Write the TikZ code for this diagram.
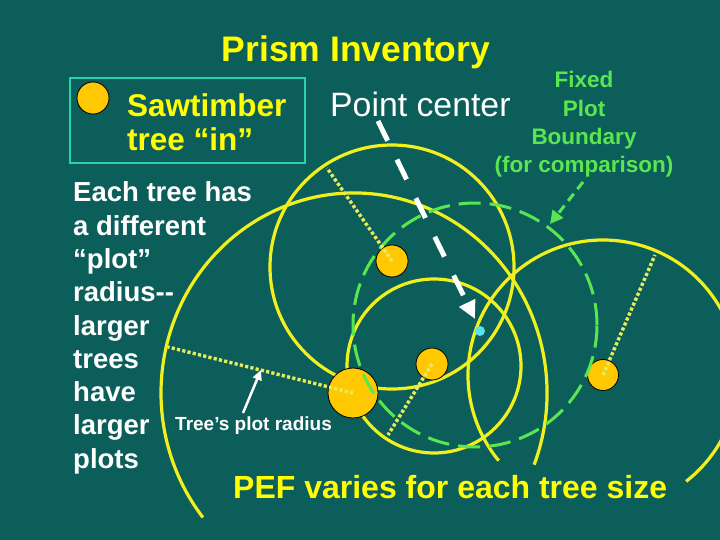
\documentclass[tikz,border=0pt]{standalone}
\usepackage{fontspec}
\setmainfont{Liberation Sans}
\usetikzlibrary{arrows.meta,calc}
\definecolor{bg}{RGB}{12,94,91}
\definecolor{yel}{RGB}{255,255,0}
\definecolor{ringc}{RGB}{240,240,30}
\definecolor{dotc}{RGB}{232,235,90}
\definecolor{grn}{RGB}{90,230,80}
\definecolor{treec}{RGB}{255,200,0}
\definecolor{boxc}{RGB}{40,210,170}
\definecolor{cyanc}{RGB}{90,225,240}
\begin{document}
\begin{tikzpicture}[x=1pt,y=-1pt,
  ringline/.style={draw=ringc,line width=3.2pt},
  treenode/.style={circle,fill=treec,draw=black,line width=0.8pt,inner sep=0pt,minimum size=#1},
  radline/.style={draw=dotc,line width=3.4pt,dash pattern=on 3.2pt off 2.2pt},
  fixedring/.style={draw=grn,line width=3pt,dash pattern=on 22pt off 9pt},
  lbl/.style={inner sep=0pt,anchor=base west},
  lblc/.style={inner sep=0pt,anchor=base},
]
\fill[bg] (0,0) rectangle (720,540);
\useasboundingbox (0,0) rectangle (720,540);

% plot circles centres
\coordinate (c1) at (392,267);
\coordinate (c2) at (434,366);
\coordinate (c3) at (354,393);
\coordinate (c4) at (603,375);
\coordinate (cg) at (475,325);

% yellow plot circles
\draw[ringline] (c1) circle[radius=122pt];
\draw[ringline] (c2) circle[radius=87pt];
\draw[ringline] (c3) ++(-21:193pt and 200pt) arc[start angle=-21,end angle=218.5,x radius=193pt,y radius=200pt];
\draw[ringline] (c4) ++(-52:135pt) arc[start angle=-52,end angle=219.4,radius=135pt];

% legend
\draw[boxc,line width=2.5pt] (70,78) rectangle (305,163);
\node[treenode=32pt] (lt) at (93,98) {};
\node[lbl,text=yel,font=\fontsize{31.5}{36}\selectfont\bfseries] (saw) at (127,117) {Sawtimber};
\node[lbl,text=yel,font=\fontsize{31.5}{36}\selectfont\bfseries] (tin) at (127,151) {tree “in”};

% trees
\node[treenode=32pt] (t1) at (392,261) {};
\node[treenode=32pt] (t2) at (432,364) {};
\node[treenode=50pt] (t3) at (353,393) {};
\node[treenode=31pt] (t4) at (603,375) {};

% fixed plot
\draw[fixedring] (cg) circle[radius=122pt];

% radius lines
\coordinate (e1) at (327,168);
\coordinate (e2) at (388,435);
\coordinate (e3) at (168,347);
\coordinate (e4) at (655,255);
\draw[radline] (t1.center) -- (e1);
\draw[radline] (t2.center) -- (e2);
\draw[radline] (t3.center) -- (e3);
\draw[radline] (t4.center) -- (e4);

% point centre
\node[circle,fill=cyanc,inner sep=0pt,minimum size=10pt] (pc) at (480,331) {};
\coordinate (pa) at (378,121);
\coordinate (pb) at (475,319);
\draw[white,line width=5pt,dash pattern=on 22pt off 21pt,-{Triangle[length=18pt,width=17pt]}] (pa) -- (pb);

% fixed plot arrow
\coordinate (ga) at (583,182);
\coordinate (gb) at (550,224);
\draw[grn,line width=3pt,dash pattern=on 9pt off 6pt,-{Triangle[length=13pt,width=13pt]}] (ga) -- (gb);

% tree's plot radius arrow
\coordinate (ra) at (243,413);
\coordinate (rb) at (261,370);
\draw[white,line width=2.5pt,-{Triangle[length=10pt,width=9pt]}] (ra) -- (rb);

% texts
\node[lblc,text=yel,font=\fontsize{35.5}{40}\selectfont\bfseries] (title) at (356,62) {Prism Inventory};
\node[lbl,text=white,font=\fontsize{33.8}{38}\selectfont] (pctxt) at (330,117) {Point center};
\node[lblc,text=grn,font=\fontsize{22.5}{26}\selectfont\bfseries] (f1) at (584,88) {Fixed};
\node[lblc,text=grn,font=\fontsize{22.5}{26}\selectfont\bfseries] (f2) at (584,117) {Plot};
\node[lblc,text=grn,font=\fontsize{22.5}{26}\selectfont\bfseries] (f3) at (584,145) {Boundary};
\node[lblc,text=grn,font=\fontsize{22.5}{26}\selectfont\bfseries] (f4) at (584,173) {(for comparison)};
\foreach \t [count=\i] in {Each tree has,a different,“plot”,radius-{}-,larger,trees,have,larger,plots}
  \node[lbl,text=white,font=\fontsize{27.5}{32}\selectfont\bfseries] (L\i) at (73,{202+33.25*(\i-1)}) {\t};
\node[lbl,text=white,font=\fontsize{19}{22}\selectfont\bfseries] (rtxt) at (175,430) {Tree’s plot radius};
\node[lbl,text=yel,font=\fontsize{32}{36}\selectfont\bfseries] (pef) at (233,498) {PEF varies for each tree size};
\end{tikzpicture}
\end{document}
